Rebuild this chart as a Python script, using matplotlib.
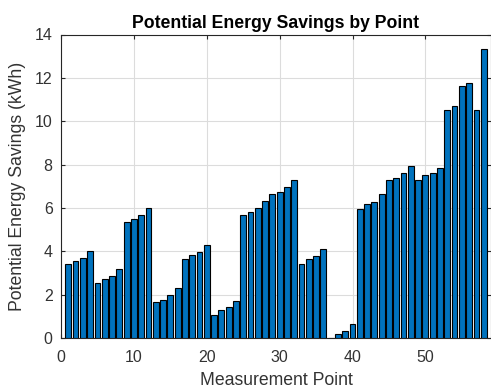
import matplotlib
matplotlib.use("Agg")
import matplotlib.pyplot as plt

plt.rcParams['font.family'] = ['Liberation Sans', 'DejaVu Sans']

# savings per measurement point (kWh)
points = list(range(1, 59))
savings = [3.40, 3.55, 3.68, 4.03, 2.52, 2.74, 2.86, 3.20, 5.35, 5.51,
           5.68, 6.00, 1.65, 1.77, 1.98, 2.32, 3.66, 3.85, 3.97, 4.29,
           1.08, 1.28, 1.42, 1.72, 5.66, 5.80, 6.00, 6.32, 6.63, 6.74,
           6.95, 7.29, 3.43, 3.65, 3.77, 4.09, 0.00, 0.17, 0.31, 0.66,
           5.97, 6.18, 6.29, 6.63, 7.29, 7.40, 7.62, 7.95, 7.29, 7.51,
           7.62, 7.82, 10.52, 10.72, 11.63, 11.77, 10.54, 13.35]
xticks = [0, 10, 20, 30, 40, 50]
yticks = [0, 2, 4, 6, 8, 10, 12, 14]

txt = '#333333'

fig = plt.figure(figsize=(4.91, 3.91), dpi=100)
ax = fig.add_axes([61 / 491, 53 / 391, 430 / 491, 303.5 / 391])

ax.bar(points, savings, width=0.8, color='#0072BD', edgecolor='black',
       linewidth=0.8, zorder=3)

ax.set_xlim(0, 59)
ax.set_ylim(0, 14)
ax.set_xticks(xticks)
ax.set_yticks(yticks)
ax.grid(True, color='#dcdcdc', linewidth=0.8, zorder=0)
ax.tick_params(direction='in', labelsize=11.5, length=3, color='#262626',
               labelcolor=txt, top=True, right=True)
ax.tick_params(axis='x', pad=9)
ax.tick_params(axis='y', pad=6)
for s in ax.spines.values():
    s.set_color('#262626')
    s.set_linewidth(0.8)

ax.set_xlabel('Measurement Point', fontsize=12.7, color=txt, labelpad=5)
ax.set_ylabel('Potential Energy Savings (kWh)', fontsize=12.7, color=txt,
              labelpad=6)
ax.set_title('Potential Energy Savings by Point', fontsize=12.7,
             fontweight='bold', pad=5)

fig.savefig('out.png', dpi=100)
